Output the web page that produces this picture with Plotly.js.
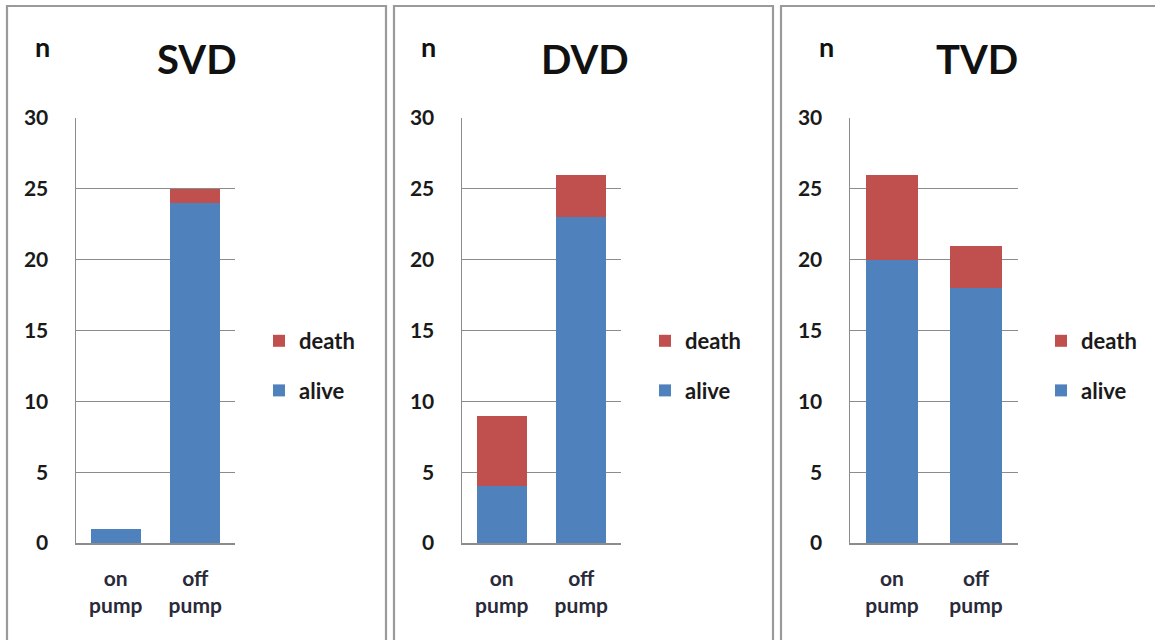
<!DOCTYPE html>
<html>
<head>
<meta charset="utf-8">
<script src="https://cdn.plot.ly/plotly-3.0.1.min.js"></script>
<style>html,body{margin:0;padding:0;background:#fff;}#chart{width:1155px;height:640px;}</style>
</head>
<body>
<div id="chart"></div>
<script>
// ---- data ----
const categories = ["on pump", "off pump"];
const panelTitles = ["SVD", "DVD", "TVD"];
const seriesNames = ["alive", "death"];
const aliveSVD = [1, 24];
const deathSVD = [0, 1];
const aliveDVD = [4, 23];
const deathDVD = [5, 3];
const aliveTVD = [20, 18];
const deathTVD = [6, 3];
const yTickValues = [0, 5, 10, 15, 20, 25, 30];
const yAxisLabel = "n";

// ---- style / layout ----
const W = 1155, H = 640;
const aliveColor = "#4F81BD";
const deathColor = "#C0504D";
const gridColor = "#8c8c8c";
const FONT = "Lato, 'Open Sans', sans-serif";
const px = v => v / W;
const py = v => 1 - v / H;

const panels = [
  {title: panelTitles[0], alive: aliveSVD, death: deathSVD, dom: [76, 235], box: [7, 386], titleX: 197, nX: 42, legX: 259},
  {title: panelTitles[1], alive: aliveDVD, death: deathDVD, dom: [462, 621], box: [394, 773], titleX: 585, nX: 428, legX: 645},
  {title: panelTitles[2], alive: aliveTVD, death: deathTVD, dom: [850, 1018], box: [781, 1160], titleX: 977, nX: 826, legX: 1041}
];

const ticktext = categories.map(c => c.replace(" ", "<br>"));
const traces = [];
const layout = {
  width: W, height: H,
  margin: {l: 0, r: 0, t: 0, b: 0, pad: 0},
  paper_bgcolor: "#fff", plot_bgcolor: "#fff",
  barmode: "stack",
  bargap: 0.37,
  font: {family: FONT, color: "#1a1a1a", size: 20, weight: "bold"},
  annotations: [],
  shapes: []
};

panels.forEach((p, i) => {
  const n = i === 0 ? "" : String(i + 1);
  const legName = "legend" + n;
  traces.push({
    type: "bar", x: categories, y: p.alive, name: seriesNames[0],
    xaxis: "x" + n, yaxis: "y" + n, legend: legName, legendgroup: "a" + i, legendrank: 2,
    marker: {color: aliveColor}, hoverinfo: "y+name"
  });
  traces.push({
    type: "bar", x: categories, y: p.death, name: seriesNames[1],
    xaxis: "x" + n, yaxis: "y" + n, legend: legName, legendgroup: "d" + i, legendrank: 1,
    marker: {color: deathColor}, hoverinfo: "y+name"
  });
  layout["xaxis" + n] = {
    domain: [px(p.dom[0]), px(p.dom[1])], anchor: "y" + n,
    type: "category", tickvals: categories, ticktext: ticktext,
    showline: true, linecolor: gridColor, linewidth: 1.5,
    showgrid: false, zeroline: false, ticks: "", ticklabelstandoff: 16,
    tickfont: {family: FONT, size: 21, color: "#2a2a3a", weight: "bold"},
    fixedrange: true
  };
  layout["yaxis" + n] = {
    domain: [py(543), py(118)], anchor: "x" + n,
    range: [0, 30], tickvals: yTickValues,
    showline: true, linecolor: gridColor, linewidth: 1.5,
    showgrid: true, gridcolor: gridColor, gridwidth: 1.2,
    zeroline: false, ticks: "", ticklabelstandoff: 22,
    tickfont: {family: FONT, size: 21, color: "#1a1a1a", weight: "bold"},
    fixedrange: true
  };
  layout[legName] = {
    x: px(p.legX), xanchor: "left", y: py(366), yanchor: "middle",
    traceorder: "grouped", tracegroupgap: 18,
    bgcolor: "rgba(0,0,0,0)", borderwidth: 0,
    font: {family: FONT, size: 22, color: "#1a1a1a", weight: "bold"}
  };
  layout.annotations.push({
    xref: "paper", yref: "paper", x: px(p.titleX), y: py(59),
    xanchor: "center", yanchor: "middle", showarrow: false,
    text: "<b>" + p.title + "</b>", font: {family: FONT, size: 40, color: "#111"}
  });
  layout.annotations.push({
    xref: "paper", yref: "paper", x: px(p.nX), y: py(46),
    xanchor: "center", yanchor: "middle", showarrow: false,
    text: "<b>" + yAxisLabel + "</b>", font: {family: FONT, size: 27, color: "#111"}
  });
  layout.shapes.push({
    type: "rect", xref: "paper", yref: "paper",
    x0: px(p.box[0]), x1: px(p.box[1]), y0: -0.05, y1: py(6),
    line: {color: "#9a9a9a", width: 2.2}, fillcolor: "rgba(0,0,0,0)", layer: "below"
  });
});

Plotly.newPlot("chart", traces, layout, {displayModeBar: false, staticPlot: true});
</script>
</body>
</html>
